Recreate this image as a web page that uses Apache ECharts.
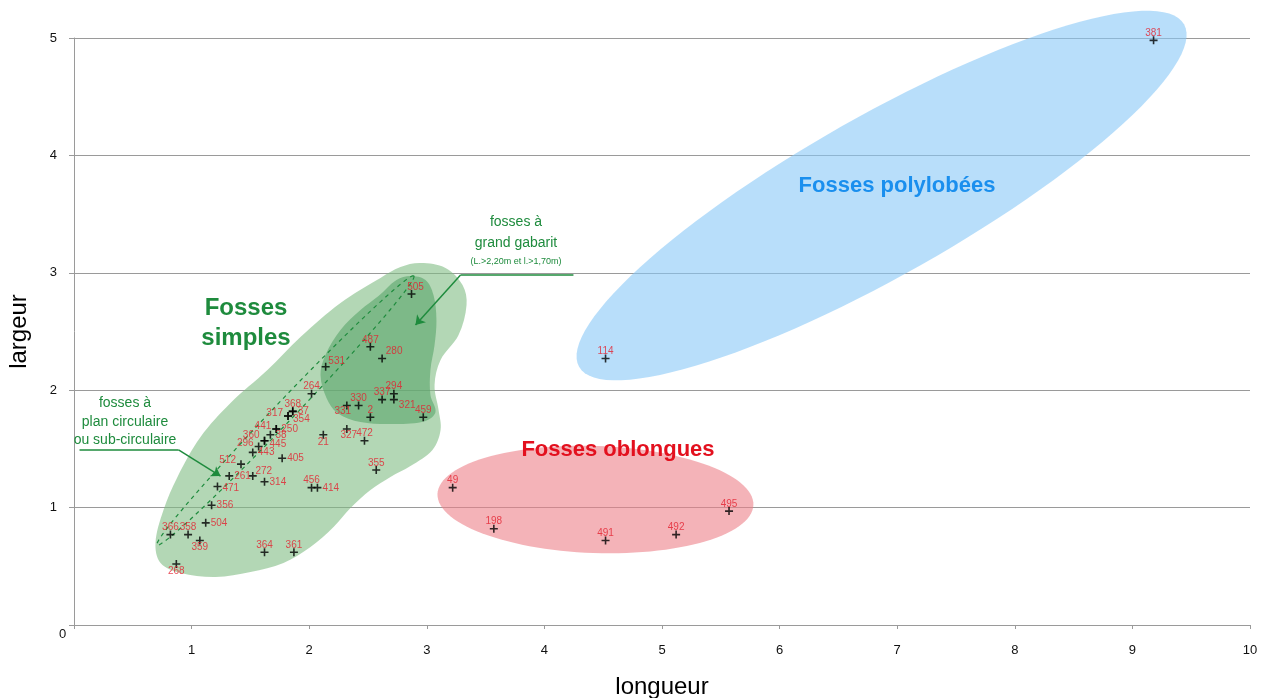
<!DOCTYPE html>
<html><head><meta charset="utf-8">
<script src="https://cdn.jsdelivr.net/npm/echarts@6/dist/echarts.min.js"></script>
<style>html,body{margin:0;padding:0;background:#fff}#c{width:1268px;height:698px}</style>
</head><body><div id="c"></div>
<script>
// ---- data ----
const ids = ['381','114','49','198','491','492','495','505','487','280','531','264','294','337','321','330','331','2','459','327','472','21','355','368','37','317','354','441','250','38','360','445','296','443','405','512','272','261','314','456','414','471','356','504','366','358','359','268','364','361'];
const longueur = [9.18,4.52,3.22,3.57,4.52,5.12,5.57,2.87,2.52,2.62,2.14,2.02,2.72,2.62,2.72,2.42,2.32,2.52,2.97,2.32,2.47,2.12,2.57,1.86,1.86,1.82,1.82,1.72,1.72,1.67,1.62,1.62,1.57,1.52,1.77,1.42,1.52,1.32,1.62,2.02,2.07,1.22,1.17,1.12,0.82,0.97,1.07,0.87,1.62,1.87];
const largeur = [4.98,2.27,1.17,0.82,0.72,0.77,0.97,2.82,2.37,2.27,2.20,1.97,1.97,1.92,1.92,1.87,1.87,1.77,1.77,1.67,1.57,1.62,1.32,1.82,1.82,1.78,1.78,1.67,1.67,1.62,1.57,1.57,1.52,1.47,1.42,1.37,1.27,1.27,1.22,1.17,1.17,1.18,1.02,0.87,0.77,0.77,0.72,0.52,0.62,0.62];
const xTicks = [0,1,2,3,4,5,6,7,8,9,10];
const yTicks = [0,1,2,3,4,5];

// zone outlines (data units)
const zoneSimples = [[2.946,3.083],[3.159,3.041],[3.304,2.896],[3.338,2.726],[3.270,2.470],[3.117,2.257],[3.066,2.044],[3.100,1.831],[3.117,1.661],[3.048,1.491],[2.861,1.354],[2.691,1.261],[2.521,1.150],[2.351,0.997],[2.207,0.835],[2.011,0.664],[1.781,0.528],[1.501,0.451],[1.203,0.409],[0.906,0.443],[0.736,0.528],[0.693,0.698],[0.761,0.980],[0.880,1.261],[1.076,1.601],[1.331,1.891],[1.645,2.172],[1.926,2.453],[2.266,2.743],[2.606,2.956],[2.776,3.049]];
const zoneGrand = [[2.742,2.939],[2.861,2.973],[2.989,2.939],[3.057,2.811],[3.082,2.598],[3.066,2.385],[3.031,2.172],[3.031,1.959],[3.074,1.814],[2.989,1.738],[2.734,1.712],[2.436,1.729],[2.240,1.806],[2.147,1.934],[2.096,2.129],[2.138,2.300],[2.266,2.513],[2.436,2.683],[2.589,2.802]];
// ellipses: [cx, cy, semi-major, semi-minor, angle deg]
const ellPolylobees = [6.867,3.658,2.957,0.680,29.56];
const ellOblongues = [4.434,1.069,1.344,0.456,-2];
const ellCirculaire = [1.798,1.827,1.583,0.085,46.4];
// annotation leader lines (data units)
const leaderGrand = [[4.247,2.981],[3.287,2.981],[2.904,2.555]];
const leaderCirc = [[0.047,1.491],[0.889,1.491],[1.246,1.269]];

// label placement (layout only)
const labelPlace = {
 '505':['top',4,0],'280':['top',12,0],'531':['top',11,2],'272':['top',11,2],
 '37':['right',0,0],'354':['right',0,3],'250':['right',0,0],'38':['right',0,0],'445':['right',0,4],
 '443':['right',0,0],'405':['right',0,0],'261':['right',0,0],'314':['right',0,0],'414':['right',0,1],
 '471':['right',0,2],'356':['right',0,0],'504':['right',0,0],'321':['right',0,6],
 '317':['left',0,-3],'441':['left',0,-3],'360':['left',0,-5],'296':['left',0,-3],'512':['left',0,-4],
 '331':['bottom',-4,-1],'327':['bottom',2,-1],'21':['bottom',0,0],'359':['bottom',0,0],'268':['bottom',0,0]
};

function ellipsePts(e){
  const [cx,cy,a,b,ang]=e, t=ang*Math.PI/180, pts=[];
  for(let i=0;i<120;i++){const u=i/120*2*Math.PI;
    pts.push([cx+a*Math.cos(u)*Math.cos(t)-b*Math.sin(u)*Math.sin(t), cy+a*Math.cos(u)*Math.sin(t)+b*Math.sin(u)*Math.cos(t)]);}
  return pts;
}
function shapeSeries(pts, style, smooth){
  return {type:'custom', coordinateSystem:'cartesian2d', silent:true, clip:false, data:[[0,0]],
    renderItem:function(params, api){
      return {type:'polygon', shape:{points:pts.map(p=>api.coord(p)), smooth:smooth||0}, style:style};
    }};
}

const green='#1e8b3d';
const scatterData = ids.map((id,i)=>{const pl=labelPlace[id]||['top',0,0];
  const d = pl[0]==='top'||pl[0]==='bottom' ? -2 : 1;
  return {name:id, value:[longueur[i],largeur[i]], label:{position:pl[0], distance:d, offset:[pl[1],pl[2]]}};});

function leaderData(l){return [
  [{coord:l[0],symbol:'none'},{coord:l[1],symbol:'none'}],
  [{coord:l[1],symbol:'none'},{coord:l[2],symbol:'arrow'}]];}

function txt(x,y,text,size,color,bold){
  return {type:'text',x:x,y:y,z:100,style:{text:text,fontSize:size,fontWeight:bold?'bold':'normal',fill:color,fontFamily:font,align:'center',verticalAlign:'middle'}};
}

const chart = echarts.init(document.getElementById('c'));
const font='Liberation Sans';
chart.setOption({
  animation:false,
  textStyle:{fontFamily:font},
  grid:{left:74,right:18,top:38,bottom:73,containLabel:false,outerBoundsMode:'none'},
  xAxis:{type:'value',min:xTicks[0],max:xTicks[xTicks.length-1],interval:1,
    name:'longueur',nameLocation:'middle',nameGap:50,nameTextStyle:{fontSize:24,color:'#000',fontFamily:font},
    axisLine:{lineStyle:{color:'#9a9a9a'}},axisTick:{show:true,length:4,lineStyle:{color:'#9a9a9a'}},
    splitLine:{show:false},
    axisLabel:{fontSize:13,color:'#111',margin:19,formatter:v=>v===0?'':String(v)}},
  yAxis:{type:'value',min:yTicks[0],max:yTicks[yTicks.length-1],interval:1,
    name:'largeur',nameLocation:'middle',nameGap:43,nameTextStyle:{fontSize:24,color:'#000',fontFamily:font},
    axisLine:{show:true,lineStyle:{color:'#9a9a9a'}},axisTick:{show:true,length:5,lineStyle:{color:'#9a9a9a'}},
    splitLine:{show:true,lineStyle:{color:'#9a9a9a',width:1}},
    axisLabel:{fontSize:13,color:'#111',margin:17,formatter:v=>v===0?'':String(v)}},
  series:[
    shapeSeries(ellipsePts(ellPolylobees),{fill:'rgba(137,200,247,0.6)'}),
    shapeSeries(ellipsePts(ellOblongues),{fill:'rgba(236,128,136,0.6)'}),
    shapeSeries(zoneSimples,{fill:'rgba(128,188,132,0.6)'},0.35),
    shapeSeries(zoneGrand,{fill:'rgba(90,165,106,0.6)'},0.35),
    shapeSeries(ellipsePts(ellCirculaire),{fill:'none',stroke:green,lineWidth:1.2,lineDash:[4,4]}),
    {type:'scatter', data:scatterData, symbol:'path://M4,0h2v4h4v2h-4v4h-2v-4h-4v-2h4z', symbolSize:8,
      itemStyle:{color:'#000'}, silent:true, z:5,
      label:{show:true, formatter:'{b}', color:'#e4202e', fontSize:10, fontFamily:font},
      markLine:{silent:true, symbolSize:9, label:{show:false},
        lineStyle:{color:green,width:1.5,type:'solid'},
        data:[...leaderData(leaderGrand),...leaderData(leaderCirc)]}}
  ],
  graphic:[
    {type:'text',left:59,top:628,z:100,style:{text:'0',fontSize:13,fill:'#111',fontFamily:font}},
    txt(246,308,'Fosses',24,green,true),
    txt(246,338,'simples',24,green,true),
    txt(897,186,'Fosses polylobées',22,'#1a8fee',true),
    txt(618,450,'Fosses oblongues',22,'#e3101e',true),
    txt(516,222,'fosses à',14,green),
    txt(516,243,'grand gabarit',14,green),
    txt(516,262,'(L.>2,20m et l.>1,70m)',9,green),
    txt(125,403,'fosses à',14,green),
    txt(125,422,'plan circulaire',14,green),
    txt(125,440,'ou sub-circulaire',14,green)
  ]
});
</script></body></html>
